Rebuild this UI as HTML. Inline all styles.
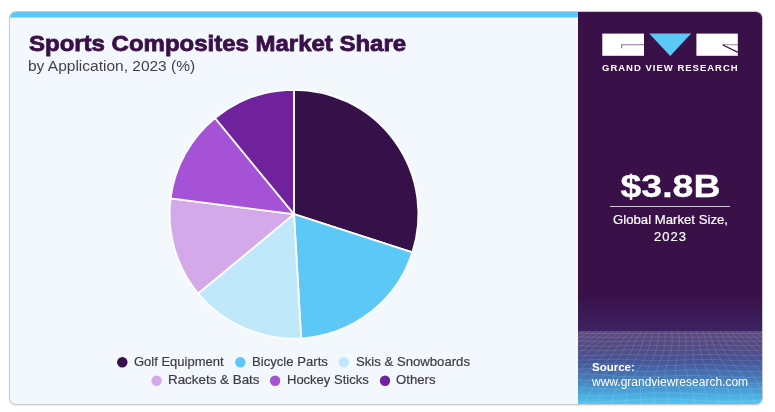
<!DOCTYPE html>
<html><head><meta charset="utf-8">
<style>
html,body{margin:0;padding:0;background:#fff;}
body{width:775px;height:412px;position:relative;overflow:hidden;font-family:"Liberation Sans",sans-serif;}
#card{position:absolute;left:10px;top:12px;width:752px;height:392px;background:#f3f8fc;border-radius:6px;box-shadow:0 0 0 1px #c9c9cc, 0 1px 2px rgba(0,0,0,.25);overflow:hidden;}
#bar{position:absolute;left:0;top:0;width:568px;height:6px;background:linear-gradient(to bottom,#5bc8f5 0,#5bc8f5 5px,#a5dff8 5px,#a5dff8 6px);}
#panel{position:absolute;left:568px;top:0;width:184px;height:392px;background:linear-gradient(to bottom,#3a1049 0%,#3a1049 72%,#3b2260 81.1%,#45407f 86.2%,#455c9e 90%,#4580bd 93.9%,#49abdf 97.7%,#53c4f1 100%);}
.t{position:absolute;white-space:nowrap;transform-origin:0 0;line-height:1;will-change:transform;}
#title{left:18.5px;top:20.6px;font-size:22.4px;font-weight:bold;color:#3a1049;transform:scaleX(1.071);-webkit-text-stroke:0.8px #3a1049;}
#sub{left:17.6px;top:46.1px;font-size:15.5px;color:#443f4a;transform:scaleX(1.0);}
.lg{font-size:13px;color:#3f3a46;-webkit-text-stroke:.2px #3f3a46;}
.dot{position:absolute;width:10.4px;height:10.4px;border-radius:50%;}
.w{color:#fff;}
.c{left:0;width:185px;text-align:center;transform-origin:50% 0;}
</style></head><body>
<div id="card">
<div id="bar"></div>
<div id="title" class="t">Sports Composites Market Share</div>
<div id="sub" class="t">by Application, 2023 (%)</div>
<svg id="pie" style="position:absolute;left:0;top:0" width="568" height="392" viewBox="0 0 568 392">
<g stroke="#fbfdfe" stroke-width="1.8" stroke-linejoin="round">
<path d="M284 202.15L284.00 77.75A124.4 124.4 0 0 1 402.38 240.39Z" fill="#351049"/>
<path d="M284 202.15L402.38 240.39A124.4 124.4 0 0 1 291.16 326.34Z" fill="#5bc8f5"/>
<path d="M284 202.15L291.16 326.34A124.4 124.4 0 0 1 188.15 281.45Z" fill="#bfe8fb"/>
<path d="M284 202.15L188.15 281.45A124.4 124.4 0 0 1 160.61 186.34Z" fill="#d4a9ea"/>
<path d="M284 202.15L160.61 186.34A124.4 124.4 0 0 1 205.04 106.02Z" fill="#a552d6"/>
<path d="M284 202.15L205.04 106.02A124.4 124.4 0 0 1 284.00 77.75Z" fill="#6f229c"/>
</g>
<circle cx="112.3" cy="350.2" r="5.2" fill="#351049"/>
<circle cx="230.3" cy="350.2" r="5.2" fill="#5bc8f5"/>
<circle cx="333.8" cy="350.2" r="5.2" fill="#bfe8fb"/>
<circle cx="146.6" cy="368.7" r="5.2" fill="#d4a9ea"/>
<circle cx="265.1" cy="368.7" r="5.2" fill="#a552d6"/>
<circle cx="375.0" cy="368.7" r="5.2" fill="#6f229c"/>
</svg>
<div class="t lg" id="lg0" style="left:124.0px;top:342.9px;transform:scaleX(1.0)">Golf Equipment</div>
<div class="t lg" id="lg1" style="left:241.7px;top:342.9px;transform:scaleX(1.01)">Bicycle Parts</div>
<div class="t lg" id="lg2" style="left:345.6px;top:342.9px;transform:scaleX(1.011)">Skis &amp; Snowboards</div>
<div class="t lg" id="lg3" style="left:157.8px;top:360.8px;transform:scaleX(1.03)">Rackets &amp; Bats</div>
<div class="t lg" id="lg4" style="left:276.7px;top:360.8px;transform:scaleX(1.0)">Hockey Sticks</div>
<div class="t lg" id="lg5" style="left:386.4px;top:360.8px;transform:scaleX(1.013)">Others</div>
<div id="panel">
<div style="position:absolute;left:0;top:319px;width:185px;height:30px;background:linear-gradient(to bottom,rgba(255,255,255,.17),rgba(255,255,255,0))"></div>
<svg id="mesh" style="position:absolute;left:0;top:319px" width="185" height="73" viewBox="0 0 185 74"><g fill="none" stroke="#fff" stroke-opacity=".13" stroke-width=".9">
<polyline points="4.6,0.0 0.7,2.6 -4.9,6.1 -11.6,10.1 -19.4,14.4 -27.9,19.0 -36.8,23.9 -45.9,29.2 -54.7,34.7 -63.0,40.6 -71.0,46.6 -78.8,52.8 -87.1,59.1 -96.2,65.3 -106.5,71.4 -118.1,77.3 -130.6,83.1"/>
<polyline points="10.8,0.0 7.1,2.6 1.6,6.1 -5.0,10.0 -12.4,14.4 -20.4,19.1 -28.7,24.2 -36.9,29.5 -44.7,35.1 -52.1,40.9 -59.3,46.9 -66.7,52.9 -74.8,58.9 -83.9,64.8 -94.2,70.7 -105.7,76.5 -117.7,82.2"/>
<polyline points="16.9,0.0 13.3,2.5 8.0,6.1 1.6,10.1 -5.4,14.6 -12.9,19.4 -20.4,24.5 -27.7,29.8 -34.6,35.3 -41.2,41.0 -47.8,46.7 -54.9,52.5 -62.9,58.3 -72.0,64.1 -82.3,70.0 -93.3,75.8 -104.5,81.8"/>
<polyline points="22.9,0.0 19.3,2.6 14.2,6.1 8.2,10.3 1.6,14.8 -5.2,19.7 -11.8,24.8 -18.2,30.0 -24.3,35.3 -30.2,40.6 -36.4,46.1 -43.4,51.7 -51.3,57.5 -60.4,63.4 -70.4,69.5 -80.9,75.7 -91.0,82.1"/>
<polyline points="28.8,0.0 25.3,2.6 20.5,6.2 14.8,10.5 8.8,15.1 2.8,20.0 -3.1,24.9 -8.6,29.9 -13.9,34.9 -19.4,40.0 -25.3,45.3 -32.2,50.8 -40.2,56.7 -49.1,62.9 -58.6,69.5 -68.1,76.3 -77.0,83.2"/>
<polyline points="34.6,0.0 31.3,2.6 26.7,6.4 21.5,10.7 16.2,15.3 10.9,20.1 5.9,24.9 1.1,29.6 -3.6,34.3 -8.8,39.2 -14.6,44.4 -21.4,50.0 -29.3,56.2 -37.8,62.9 -46.6,70.1 -55.0,77.4 -62.5,84.7"/>
<polyline points="40.3,0.0 37.2,2.7 33.0,6.4 28.4,10.8 23.7,15.4 19.2,20.0 15.0,24.7 10.8,29.2 6.5,33.8 1.6,38.5 -4.2,43.8 -10.9,49.6 -18.5,56.2 -26.5,63.4 -34.3,71.0 -41.5,78.7 -47.5,86.2"/>
<polyline points="46.0,0.0 43.1,2.7 39.4,6.5 35.4,10.8 31.4,15.3 27.7,19.9 24.1,24.4 20.5,28.8 16.4,33.3 11.6,38.2 6.0,43.6 -0.6,49.7 -7.8,56.6 -15.0,64.1 -21.7,72.0 -27.4,79.8 -32.1,87.2"/>
<polyline points="51.7,0.0 49.1,2.7 45.9,6.4 42.5,10.6 39.3,15.1 36.2,19.6 33.2,24.1 29.9,28.6 26.1,33.3 21.4,38.3 15.8,43.9 9.6,50.3 3.1,57.3 -3.1,64.9 -8.5,72.7 -13.0,80.3 -16.4,87.3"/>
<polyline points="57.4,0.0 55.2,2.7 52.5,6.3 49.8,10.5 47.2,14.8 44.8,19.3 42.2,23.9 39.1,28.6 35.4,33.5 30.9,38.8 25.6,44.7 19.9,51.1 14.2,58.1 9.2,65.5 5.0,72.8 1.9,80.0 -0.5,86.5"/>
<polyline points="63.2,0.0 61.4,2.6 59.3,6.2 57.2,10.3 55.2,14.6 53.2,19.2 51.0,23.9 48.1,28.8 44.5,34.0 40.2,39.6 35.3,45.6 30.3,52.0 25.7,58.7 21.8,65.6 19.0,72.4 17.0,79.0 15.3,85.1"/>
<polyline points="69.1,0.0 67.8,2.6 66.2,6.1 64.7,10.1 63.2,14.5 61.6,19.2 59.6,24.1 56.9,29.2 53.4,34.7 49.4,40.4 45.1,46.3 41.0,52.5 37.5,58.9 34.9,65.2 33.2,71.5 32.1,77.6 31.0,83.4"/>
<polyline points="75.1,0.0 74.2,2.5 73.2,6.1 72.2,10.1 71.1,14.5 69.8,19.3 67.9,24.3 65.4,29.7 62.2,35.2 58.6,40.9 55.1,46.7 52.0,52.6 49.7,58.6 48.3,64.5 47.6,70.4 47.2,76.2 46.2,82.1"/>
<polyline points="81.2,0.0 80.7,2.5 80.2,6.1 79.6,10.1 78.9,14.6 77.8,19.5 76.1,24.6 73.7,30.0 70.9,35.5 68.0,41.1 65.3,46.7 63.3,52.3 62.2,58.0 61.9,63.6 62.0,69.4 61.9,75.3 61.0,81.4"/>
<polyline points="87.4,0.0 87.3,2.6 87.2,6.1 87.0,10.2 86.5,14.8 85.6,19.7 84.0,24.8 82.0,30.1 79.7,35.5 77.5,40.9 75.9,46.3 75.1,51.8 75.1,57.3 75.6,62.9 76.2,68.8 76.3,74.9 75.3,81.4"/>
<polyline points="93.7,0.0 93.9,2.6 94.2,6.2 94.2,10.4 94.0,14.9 93.2,19.8 91.9,24.8 90.3,30.0 88.6,35.2 87.4,40.5 86.8,45.8 87.1,51.2 88.0,56.7 89.2,62.6 90.2,68.7 90.2,75.2 89.1,82.1"/>
<polyline points="100.0,0.0 100.5,2.6 101.0,6.3 101.3,10.4 101.2,15.0 100.6,19.7 99.7,24.7 98.6,29.7 97.8,34.8 97.5,40.0 98.0,45.3 99.3,50.8 101.0,56.6 102.7,62.7 103.7,69.2 103.7,76.0 102.5,83.1"/>
<polyline points="106.3,0.0 107.0,2.6 107.8,6.3 108.2,10.4 108.3,14.9 108.0,19.6 107.5,24.4 107.2,29.3 107.2,34.4 108.0,39.6 109.5,45.1 111.6,50.8 113.9,56.9 115.8,63.3 116.8,70.0 116.7,77.0 115.6,84.1"/>
<polyline points="112.6,0.0 113.5,2.6 114.4,6.3 115.0,10.4 115.3,14.8 115.4,19.3 115.5,24.1 115.9,29.0 116.9,34.1 118.7,39.5 121.1,45.2 123.9,51.2 126.5,57.5 128.5,64.1 129.4,70.9 129.3,77.8 128.5,84.6"/>
<polyline points="118.8,0.0 119.8,2.6 120.8,6.2 121.7,10.3 122.3,14.6 122.9,19.1 123.6,23.9 124.9,28.9 126.9,34.1 129.6,39.7 132.7,45.6 136.0,51.8 138.8,58.2 140.7,64.8 141.7,71.5 141.7,78.1 141.4,84.6"/>
<polyline points="124.9,0.0 126.0,2.6 127.2,6.2 128.3,10.1 129.3,14.4 130.4,19.0 132.0,23.8 134.2,28.9 137.1,34.4 140.5,40.1 144.3,46.2 147.8,52.4 150.7,58.8 152.6,65.3 153.6,71.6 154.1,77.9 154.6,83.9"/>
<polyline points="130.9,0.0 132.1,2.6 133.5,6.1 134.8,10.0 136.3,14.3 138.2,19.0 140.5,23.9 143.6,29.2 147.4,34.8 151.5,40.6 155.6,46.7 159.3,52.9 162.2,59.1 164.1,65.2 165.4,71.3 166.6,77.1 168.2,82.9"/>
<polyline points="136.8,0.0 138.0,2.5 139.7,6.0 141.5,10.0 143.5,14.4 146.1,19.1 149.3,24.2 153.2,29.6 157.7,35.2 162.3,41.1 166.7,47.0 170.4,53.0 173.3,58.9 175.5,64.7 177.3,70.5 179.3,76.2 182.2,81.9"/>
<polyline points="142.6,0.0 144.0,2.5 145.9,6.0 148.2,10.1 150.9,14.5 154.2,19.3 158.3,24.5 163.0,29.9 168.0,35.5 172.9,41.2 177.4,47.0 181.2,52.7 184.2,58.4 186.7,64.0 189.3,69.6 192.4,75.3 196.7,81.2"/>
<polyline points="148.3,0.0 149.9,2.5 152.2,6.1 155.0,10.2 158.4,14.7 162.6,19.6 167.4,24.7 172.7,30.1 178.1,35.6 183.3,41.1 187.8,46.6 191.7,52.1 195.0,57.6 198.1,63.2 201.6,68.9 206.0,74.8 211.7,81.1"/>
<polyline points="154.0,0.0 155.8,2.6 158.6,6.1 162.0,10.3 166.2,14.9 171.0,19.7 176.5,24.8 182.3,30.1 188.0,35.4 193.3,40.7 197.9,46.1 202.0,51.5 205.7,57.0 209.6,62.7 214.3,68.6 220.1,74.9 227.1,81.6"/>
<polyline points="159.7,0.0 161.8,2.6 165.1,6.2 169.2,10.4 174.0,15.0 179.6,19.8 185.6,24.8 191.7,29.9 197.6,35.0 203.0,40.2 207.8,45.5 212.2,51.0 216.6,56.6 221.5,62.6 227.4,68.9 234.6,75.6 242.9,82.6"/>
<polyline points="165.4,0.0 167.9,2.6 171.8,6.3 176.5,10.4 182.0,14.9 188.1,19.7 194.6,24.5 200.9,29.5 207.0,34.6 212.5,39.8 217.6,45.1 222.5,50.8 227.7,56.7 233.8,63.0 241.0,69.6 249.4,76.5 258.8,83.6"/>
<polyline points="171.2,0.0 174.1,2.6 178.5,6.3 183.9,10.4 190.0,14.8 196.6,19.5 203.3,24.2 209.9,29.1 216.1,34.2 221.8,39.5 227.3,45.1 232.9,51.0 239.2,57.2 246.5,63.7 255.0,70.5 264.5,77.4 274.6,84.4"/>
<polyline points="177.1,0.0 180.5,2.6 185.4,6.3 191.4,10.3 198.0,14.7 204.9,19.2 211.9,24.0 218.6,28.9 225.0,34.1 231.0,39.6 237.1,45.4 243.6,51.5 251.0,57.9 259.6,64.5 269.2,71.3 279.7,78.0 290.2,84.7"/>
<polyline points="183.1,0.0 186.9,2.6 192.4,6.2 198.9,10.2 205.9,14.5 213.1,19.0 220.3,23.8 227.2,28.9 233.7,34.2 240.2,39.9 247.1,45.9 254.6,52.1 263.2,58.6 273.0,65.1 283.6,71.6 294.7,78.1 305.5,84.3"/>
<polyline points="189.2,0.0 193.5,2.6 199.4,6.1 206.3,10.1 213.6,14.4 221.1,18.9 228.4,23.8 235.5,29.0 242.5,34.6 249.6,40.4 257.3,46.5 266.0,52.7 275.8,59.0 286.6,65.3 298.0,71.5 309.4,77.5 320.2,83.4"/>
<polyline points="195.4,0.0 200.1,2.6 206.5,6.0 213.7,10.0 221.3,14.3 228.9,19.0 236.4,24.0 243.8,29.4 251.3,35.0 259.2,40.9 267.9,46.9 277.8,53.0 288.6,59.1 300.3,65.0 312.2,70.9 323.8,76.6 334.5,82.4"/>
<polyline points="0.7,2.6 7.1,2.6 13.3,2.5 19.3,2.6 25.3,2.6 31.3,2.6 37.2,2.7 43.1,2.7 49.1,2.7 55.2,2.7 61.4,2.6 67.8,2.6 74.2,2.5 80.7,2.5 87.3,2.6 93.9,2.6 100.5,2.6 107.0,2.6 113.5,2.6 119.8,2.6 126.0,2.6 132.1,2.6 138.0,2.5 144.0,2.5 149.9,2.5 155.8,2.6 161.8,2.6 167.9,2.6 174.1,2.6 180.5,2.6 186.9,2.6 193.5,2.6 200.1,2.6"/>
<polyline points="-4.9,6.1 1.6,6.1 8.0,6.1 14.2,6.1 20.5,6.2 26.7,6.4 33.0,6.4 39.4,6.5 45.9,6.4 52.5,6.3 59.3,6.2 66.2,6.1 73.2,6.1 80.2,6.1 87.2,6.1 94.2,6.2 101.0,6.3 107.8,6.3 114.4,6.3 120.8,6.2 127.2,6.2 133.5,6.1 139.7,6.0 145.9,6.0 152.2,6.1 158.6,6.1 165.1,6.2 171.8,6.3 178.5,6.3 185.4,6.3 192.4,6.2 199.4,6.1 206.5,6.0"/>
<polyline points="-11.6,10.1 -5.0,10.0 1.6,10.1 8.2,10.3 14.8,10.5 21.5,10.7 28.4,10.8 35.4,10.8 42.5,10.6 49.8,10.5 57.2,10.3 64.7,10.1 72.2,10.1 79.6,10.1 87.0,10.2 94.2,10.4 101.3,10.4 108.2,10.4 115.0,10.4 121.7,10.3 128.3,10.1 134.8,10.0 141.5,10.0 148.2,10.1 155.0,10.2 162.0,10.3 169.2,10.4 176.5,10.4 183.9,10.4 191.4,10.3 198.9,10.2 206.3,10.1 213.7,10.0"/>
<polyline points="-19.4,14.4 -12.4,14.4 -5.4,14.6 1.6,14.8 8.8,15.1 16.2,15.3 23.7,15.4 31.4,15.3 39.3,15.1 47.2,14.8 55.2,14.6 63.2,14.5 71.1,14.5 78.9,14.6 86.5,14.8 94.0,14.9 101.2,15.0 108.3,14.9 115.3,14.8 122.3,14.6 129.3,14.4 136.3,14.3 143.5,14.4 150.9,14.5 158.4,14.7 166.2,14.9 174.0,15.0 182.0,14.9 190.0,14.8 198.0,14.7 205.9,14.5 213.6,14.4 221.3,14.3"/>
<polyline points="-27.9,19.0 -20.4,19.1 -12.9,19.4 -5.2,19.7 2.8,20.0 10.9,20.1 19.2,20.0 27.7,19.9 36.2,19.6 44.8,19.3 53.2,19.2 61.6,19.2 69.8,19.3 77.8,19.5 85.6,19.7 93.2,19.8 100.6,19.7 108.0,19.6 115.4,19.3 122.9,19.1 130.4,19.0 138.2,19.0 146.1,19.1 154.2,19.3 162.6,19.6 171.0,19.7 179.6,19.8 188.1,19.7 196.6,19.5 204.9,19.2 213.1,19.0 221.1,18.9 228.9,19.0"/>
<polyline points="-36.8,23.9 -28.7,24.2 -20.4,24.5 -11.8,24.8 -3.1,24.9 5.9,24.9 15.0,24.7 24.1,24.4 33.2,24.1 42.2,23.9 51.0,23.9 59.6,24.1 67.9,24.3 76.1,24.6 84.0,24.8 91.9,24.8 99.7,24.7 107.5,24.4 115.5,24.1 123.6,23.9 132.0,23.8 140.5,23.9 149.3,24.2 158.3,24.5 167.4,24.7 176.5,24.8 185.6,24.8 194.6,24.5 203.3,24.2 211.9,24.0 220.3,23.8 228.4,23.8 236.4,24.0"/>
<polyline points="-45.9,29.2 -36.9,29.5 -27.7,29.8 -18.2,30.0 -8.6,29.9 1.1,29.6 10.8,29.2 20.5,28.8 29.9,28.6 39.1,28.6 48.1,28.8 56.9,29.2 65.4,29.7 73.7,30.0 82.0,30.1 90.3,30.0 98.6,29.7 107.2,29.3 115.9,29.0 124.9,28.9 134.2,28.9 143.6,29.2 153.2,29.6 163.0,29.9 172.7,30.1 182.3,30.1 191.7,29.9 200.9,29.5 209.9,29.1 218.6,28.9 227.2,28.9 235.5,29.0 243.8,29.4"/>
<polyline points="-54.7,34.7 -44.7,35.1 -34.6,35.3 -24.3,35.3 -13.9,34.9 -3.6,34.3 6.5,33.8 16.4,33.3 26.1,33.3 35.4,33.5 44.5,34.0 53.4,34.7 62.2,35.2 70.9,35.5 79.7,35.5 88.6,35.2 97.8,34.8 107.2,34.4 116.9,34.1 126.9,34.1 137.1,34.4 147.4,34.8 157.7,35.2 168.0,35.5 178.1,35.6 188.0,35.4 197.6,35.0 207.0,34.6 216.1,34.2 225.0,34.1 233.7,34.2 242.5,34.6 251.3,35.0"/>
<polyline points="-63.0,40.6 -52.1,40.9 -41.2,41.0 -30.2,40.6 -19.4,40.0 -8.8,39.2 1.6,38.5 11.6,38.2 21.4,38.3 30.9,38.8 40.2,39.6 49.4,40.4 58.6,40.9 68.0,41.1 77.5,40.9 87.4,40.5 97.5,40.0 108.0,39.6 118.7,39.5 129.6,39.7 140.5,40.1 151.5,40.6 162.3,41.1 172.9,41.2 183.3,41.1 193.3,40.7 203.0,40.2 212.5,39.8 221.8,39.5 231.0,39.6 240.2,39.9 249.6,40.4 259.2,40.9"/>
<polyline points="-71.0,46.6 -59.3,46.9 -47.8,46.7 -36.4,46.1 -25.3,45.3 -14.6,44.4 -4.2,43.8 6.0,43.6 15.8,43.9 25.6,44.7 35.3,45.6 45.1,46.3 55.1,46.7 65.3,46.7 75.9,46.3 86.8,45.8 98.0,45.3 109.5,45.1 121.1,45.2 132.7,45.6 144.3,46.2 155.6,46.7 166.7,47.0 177.4,47.0 187.8,46.6 197.9,46.1 207.8,45.5 217.6,45.1 227.3,45.1 237.1,45.4 247.1,45.9 257.3,46.5 267.9,46.9"/>
<polyline points="-78.8,52.8 -66.7,52.9 -54.9,52.5 -43.4,51.7 -32.2,50.8 -21.4,50.0 -10.9,49.6 -0.6,49.7 9.6,50.3 19.9,51.1 30.3,52.0 41.0,52.5 52.0,52.6 63.3,52.3 75.1,51.8 87.1,51.2 99.3,50.8 111.6,50.8 123.9,51.2 136.0,51.8 147.8,52.4 159.3,52.9 170.4,53.0 181.2,52.7 191.7,52.1 202.0,51.5 212.2,51.0 222.5,50.8 232.9,51.0 243.6,51.5 254.6,52.1 266.0,52.7 277.8,53.0"/>
<polyline points="-87.1,59.1 -74.8,58.9 -62.9,58.3 -51.3,57.5 -40.2,56.7 -29.3,56.2 -18.5,56.2 -7.8,56.6 3.1,57.3 14.2,58.1 25.7,58.7 37.5,58.9 49.7,58.6 62.2,58.0 75.1,57.3 88.0,56.7 101.0,56.6 113.9,56.9 126.5,57.5 138.8,58.2 150.7,58.8 162.2,59.1 173.3,58.9 184.2,58.4 195.0,57.6 205.7,57.0 216.6,56.6 227.7,56.7 239.2,57.2 251.0,57.9 263.2,58.6 275.8,59.0 288.6,59.1"/>
<polyline points="-96.2,65.3 -83.9,64.8 -72.0,64.1 -60.4,63.4 -49.1,62.9 -37.8,62.9 -26.5,63.4 -15.0,64.1 -3.1,64.9 9.2,65.5 21.8,65.6 34.9,65.2 48.3,64.5 61.9,63.6 75.6,62.9 89.2,62.6 102.7,62.7 115.8,63.3 128.5,64.1 140.7,64.8 152.6,65.3 164.1,65.2 175.5,64.7 186.7,64.0 198.1,63.2 209.6,62.7 221.5,62.6 233.8,63.0 246.5,63.7 259.6,64.5 273.0,65.1 286.6,65.3 300.3,65.0"/>
<polyline points="-106.5,71.4 -94.2,70.7 -82.3,70.0 -70.4,69.5 -58.6,69.5 -46.6,70.1 -34.3,71.0 -21.7,72.0 -8.5,72.7 5.0,72.8 19.0,72.4 33.2,71.5 47.6,70.4 62.0,69.4 76.2,68.8 90.2,68.7 103.7,69.2 116.8,70.0 129.4,70.9 141.7,71.5 153.6,71.6 165.4,71.3 177.3,70.5 189.3,69.6 201.6,68.9 214.3,68.6 227.4,68.9 241.0,69.6 255.0,70.5 269.2,71.3 283.6,71.6 298.0,71.5 312.2,70.9"/>
<polyline points="-118.1,77.3 -105.7,76.5 -93.3,75.8 -80.9,75.7 -68.1,76.3 -55.0,77.4 -41.5,78.7 -27.4,79.8 -13.0,80.3 1.9,80.0 17.0,79.0 32.1,77.6 47.2,76.2 61.9,75.3 76.3,74.9 90.2,75.2 103.7,76.0 116.7,77.0 129.3,77.8 141.7,78.1 154.1,77.9 166.6,77.1 179.3,76.2 192.4,75.3 206.0,74.8 220.1,74.9 234.6,75.6 249.4,76.5 264.5,77.4 279.7,78.0 294.7,78.1 309.4,77.5 323.8,76.6"/>
<polyline points="-130.6,83.1 -117.7,82.2 -104.5,81.8 -91.0,82.1 -77.0,83.2 -62.5,84.7 -47.5,86.2 -32.1,87.2 -16.4,87.3 -0.5,86.5 15.3,85.1 31.0,83.4 46.2,82.1 61.0,81.4 75.3,81.4 89.1,82.1 102.5,83.1 115.6,84.1 128.5,84.6 141.4,84.6 154.6,83.9 168.2,82.9 182.2,81.9 196.7,81.2 211.7,81.1 227.1,81.6 242.9,82.6 258.8,83.6 274.6,84.4 290.2,84.7 305.5,84.3 320.2,83.4 334.5,82.4"/>
</g></svg>
<svg id="logo" style="position:absolute;left:23.7px;top:21px" width="138" height="24" viewBox="0 0 138 24">
<rect x="0.3" y="0.6" width="41.7" height="22.2" fill="#fff"/>
<path d="M19.1 11.2H42V12.2H20.3V15.2H19.1z" fill="#3a1049" opacity=".6"/>
<polygon points="47.2,0.6 89.2,0.6 68.2,23.1" fill="#5bc8f5"/>
<rect x="94.4" y="0.6" width="41.4" height="22.2" fill="#fff"/>
<path d="M120.6 11.2H135.8V12.2H120.6Z" fill="#3a1049" opacity=".5"/>
<path d="M120.6 11.2L135.8 18.4V20L120.6 12.4Z" fill="#3a1049"/>
</svg>
<div class="t w" id="gvr" style="left:24px;top:50.9px;font-size:9.5px;font-weight:bold;letter-spacing:1px;">GRAND VIEW RESEARCH</div>
<div class="t w c" id="big" style="top:158.8px;font-size:31.5px;font-weight:bold;transform:scaleX(1.19);-webkit-text-stroke:0.3px #fff;">$3.8B</div>
<div style="position:absolute;left:32px;top:194px;width:120px;height:1px;background:#cfc6d6"></div>
<div class="t w c" id="gm1" style="top:201.3px;font-size:13px;-webkit-text-stroke:.2px #fff;transform:scaleX(1.013);">Global Market Size,</div>
<div class="t w c" id="gm2" style="top:218.2px;font-size:13px;-webkit-text-stroke:.2px #fff;letter-spacing:1px;">2023</div>
<div class="t w" id="src1" style="left:14px;top:349.7px;font-size:11.5px;font-weight:bold;">Source:</div>
<div class="t w" id="src2" style="left:14px;top:364px;font-size:12px;">www.grandviewresearch.com</div>
</div>
</div>
</body></html>
